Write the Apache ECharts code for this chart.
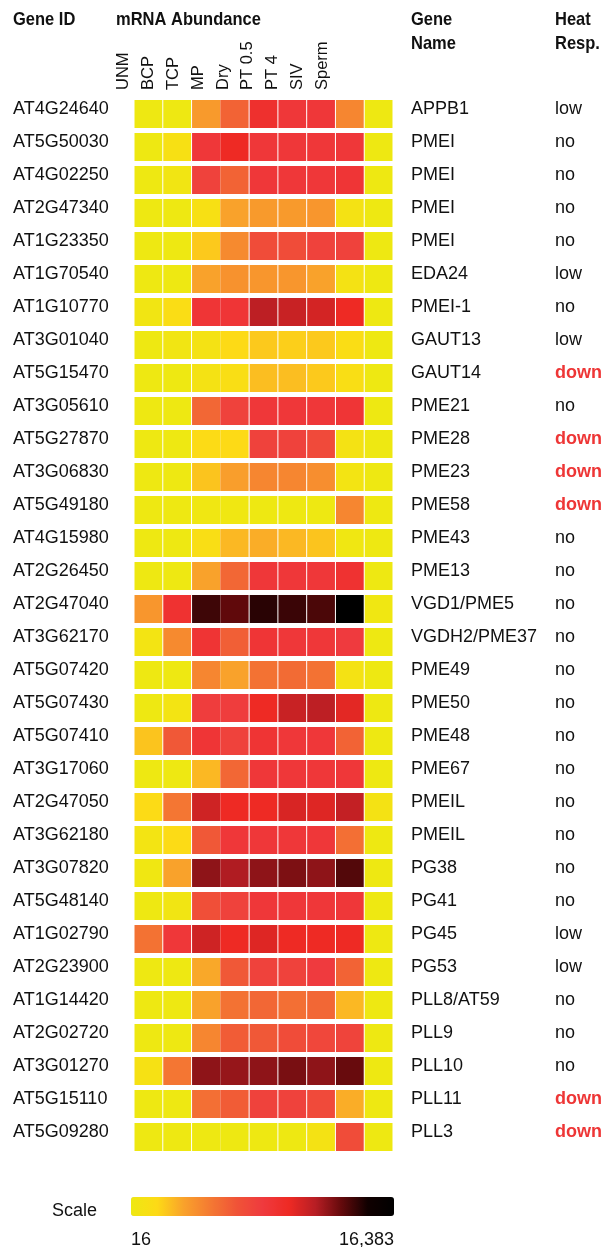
<!DOCTYPE html>
<html>
<head>
<meta charset="utf-8">
<script src="https://cdn.jsdelivr.net/npm/echarts@6/dist/echarts.min.js"></script>
<style>
  html, body { margin: 0; padding: 0; background: #fff; }
  #chart { width: 606px; height: 1247px; }
</style>
</head>
<body>
<div id="chart"></div>
<script>
const stages = ['UNM', 'BCP', 'TCP', 'MP', 'Dry', 'PT 0.5', 'PT 4', 'SIV', 'Sperm']

const geneIds = [
  'AT4G24640', 'AT5G50030', 'AT4G02250', 'AT2G47340', 'AT1G23350', 'AT1G70540',
  'AT1G10770', 'AT3G01040', 'AT5G15470', 'AT3G05610', 'AT5G27870', 'AT3G06830',
  'AT5G49180', 'AT4G15980', 'AT2G26450', 'AT2G47040', 'AT3G62170', 'AT5G07420',
  'AT5G07430', 'AT5G07410', 'AT3G17060', 'AT2G47050', 'AT3G62180', 'AT3G07820',
  'AT5G48140', 'AT1G02790', 'AT2G23900', 'AT1G14420', 'AT2G02720', 'AT3G01270',
  'AT5G15110', 'AT5G09280',
]

const geneNames = [
  'APPB1', 'PMEI', 'PMEI', 'PMEI', 'PMEI', 'EDA24',
  'PMEI-1', 'GAUT13', 'GAUT14', 'PME21', 'PME28', 'PME23',
  'PME58', 'PME43', 'PME13', 'VGD1/PME5', 'VGDH2/PME37', 'PME49',
  'PME50', 'PME48', 'PME67', 'PMEIL', 'PMEIL', 'PG38',
  'PG41', 'PG45', 'PG53', 'PLL8/AT59', 'PLL9', 'PLL10',
  'PLL11', 'PLL3',
]

const heatResp = [
  'low', 'no', 'no', 'no', 'no', 'low',
  'no', 'low', 'down', 'no', 'down', 'down',
  'down', 'no', 'no', 'no', 'no', 'no',
  'no', 'no', 'no', 'no', 'no', 'no',
  'no', 'low', 'low', 'no', 'no', 'no',
  'down', 'down',
]

// log2 mRNA abundance, one row per gene, columns follow `stages`
// (scale runs 16 .. 16,383, i.e. log2 4 .. 14)
const log2Abundance = [
  [4, 4, 6.2, 7.6, 9.6, 9.2, 9.2, 6.7, 4],
  [4, 4.6, 9.2, 10, 9.2, 9.2, 9.2, 9.2, 4],
  [4, 4.2, 8.7, 7.6, 9.2, 9.2, 9.2, 9.3, 4],
  [4, 4, 4.6, 6.0, 6.2, 6.2, 6.3, 4.4, 4],
  [4, 4, 5.3, 6.6, 8.3, 8.3, 8.7, 8.7, 4],
  [4, 4, 6.0, 6.4, 6.3, 6.3, 6.0, 4.4, 4],
  [4.2, 4.8, 9.3, 9.3, 10.9, 10.7, 10.5, 10, 4],
  [4, 4.2, 4.4, 5.0, 5.3, 5.2, 5.3, 4.8, 4],
  [4, 4, 4.4, 4.7, 5.5, 5.5, 5.3, 4.7, 4],
  [4, 4, 7.5, 8.7, 9.2, 9.2, 9.2, 9.3, 4],
  [4, 4, 4.9, 5.0, 8.7, 8.7, 8.4, 4.4, 4],
  [4, 4, 5.4, 6.1, 6.7, 6.7, 6.5, 4.3, 4],
  [4, 4, 4.1, 4.1, 4, 4, 4, 6.7, 4],
  [4, 4, 4.7, 5.6, 5.8, 5.6, 5.4, 4.1, 4],
  [4, 4, 6.0, 7.5, 9.2, 9.2, 9.2, 9.5, 4],
  [6.3, 9.5, 12.45, 12.05, 12.7, 12.5, 12.3, 14, 4.1],
  [4.3, 6.6, 9.4, 7.7, 9.3, 9.2, 9.2, 9.0, 4],
  [4, 4, 6.7, 6.0, 7.2, 7.4, 7.2, 4.4, 4],
  [4, 4.3, 8.9, 8.9, 10, 10.7, 10.9, 10.2, 4],
  [5.4, 7.9, 9.3, 8.7, 9.4, 9.2, 9.2, 7.6, 4],
  [4, 4, 5.6, 7.5, 9.2, 9.2, 9.2, 9.2, 4],
  [4.9, 7.1, 10.6, 10, 10, 10.4, 10.3, 10.8, 4.4],
  [4.3, 4.9, 7.9, 9.2, 9.2, 9.2, 9.2, 7.3, 4],
  [4.1, 6.0, 11.5, 11.1, 11.5, 11.7, 11.5, 12.2, 4],
  [4, 4.2, 8.2, 8.7, 9.2, 9.2, 9.2, 9.2, 4],
  [7.2, 9.2, 10.6, 10, 10.3, 10, 10, 10, 4],
  [4, 4, 5.9, 7.9, 8.7, 8.7, 9.0, 7.6, 4],
  [4, 4, 6.0, 7.2, 7.5, 7.3, 7.5, 5.6, 4],
  [4, 4, 6.7, 7.8, 7.9, 8.3, 8.5, 8.6, 4],
  [4.5, 7.1, 11.5, 11.4, 11.5, 11.75, 11.5, 11.95, 4],
  [4, 4, 7.3, 7.8, 8.7, 8.7, 8.4, 5.8, 4],
  [4, 4, 4, 4, 4, 4, 4.4, 8.3, 4],
]

const scaleLabels = ['16', '16,383']

// yellow -> orange -> red -> black, one stop per log2 unit
const palette = [
  '#EEE812', '#FDDA16', '#F9A22B', '#F47A32', '#F05437', '#EF3A3E',
  '#EE2A24', '#B81E24', '#640A0C', '#100000', '#000000',
]

const FONT = '"Liberation Sans", Arial, Helvetica, sans-serif'
const INK = '#111'

const cells = []
log2Abundance.forEach((row, y) => {
  row.forEach((v, x) => cells.push([x, y, v]))
})

// TCP and MP touch each other in the original, every other pair has a 1px gap
const renderCell = (params, api) => {
  const x = api.value(0)
  const p = api.coord([x, api.value(1)])
  const size = api.size([1, 1])
  const padL = x === 3 ? 0 : 0.5
  const padR = x === 2 ? 0 : 0.5
  return {
    type: 'rect',
    shape: {
      x: p[0] - size[0] / 2 + padL,
      y: p[1] - size[1] / 2 + 2.5,
      width: size[0] - padL - padR,
      height: size[1] - 5,
    },
    style: { fill: api.visual('color') },
  }
}

// the original type is a little taller than it is wide
const headerText = (text, x, y) => ({
  type: 'text',
  x,
  y,
  scaleY: 1.12,
  style: {
    text,
    fill: INK,
    font: 'bold 16.5px ' + FONT,
    verticalAlign: 'top',
  },
})

const plainText = (text, x, y, align, vAlign) => ({
  type: 'text',
  x,
  y,
  style: {
    text,
    fill: INK,
    font: '18px ' + FONT,
    align,
    verticalAlign: vAlign,
  },
})

// rich text so the bottom padding lifts labels a little above the row centre
const rowLabel = (margin, getText) => ({
  interval: 0,
  margin,
  align: 'left',
  padding: [0, 0, 9, 0],
  formatter: (v, i) => {
    const s = getText(v, i)
    return s === 'down' ? '{down|down}' : '{t|' + s + '}'
  },
  rich: {
    t: { fontFamily: FONT, fontSize: 18, color: INK },
    down: { fontFamily: FONT, fontSize: 18, fontWeight: 'bold', color: '#EE3636' },
  },
})

const rowAxis = (position, label) => ({
  type: 'category',
  data: geneIds,
  inverse: true,
  gridIndex: 0,
  position,
  axisLine: { show: false },
  axisTick: { show: false },
  axisLabel: label,
})

const option = {
  animation: false,
  grid: [
    { left: 134, top: 97.5, width: 259, height: 1056 },
    // only carries the stage labels, which sit a bit left of the columns
    { left: 111, top: 100, width: 224, height: 1 },
  ],
  xAxis: [
    {
      type: 'category',
      data: stages,
      gridIndex: 0,
      show: false,
    },
    {
      type: 'category',
      data: stages,
      gridIndex: 1,
      position: 'top',
      axisLine: { show: false },
      axisTick: { show: false },
      axisLabel: {
        interval: 0,
        rotate: 90,
        margin: 10,
        fontFamily: FONT,
        fontSize: 16.5,
        color: INK,
      },
    },
  ],
  yAxis: [
    rowAxis('left', rowLabel(121, (v) => v)),
    rowAxis('right', rowLabel(18, (v, i) => geneNames[i])),
    rowAxis('right', rowLabel(162, (v, i) => heatResp[i])),
    { type: 'value', gridIndex: 1, show: false },
  ],
  visualMap: {
    type: 'continuous',
    min: 4,
    max: 14,
    dimension: 2,
    seriesIndex: 0,
    orient: 'horizontal',
    left: 131,
    top: 1197,
    itemWidth: 19,
    itemHeight: 263,
    padding: 0,
    calculable: false,
    hoverLink: false,
    inRange: { color: palette },
  },
  graphic: [
    headerText('Gene ID', 13, 10),
    headerText('mRNA Abundance', 116, 10),
    headerText('Gene', 411, 10),
    headerText('Name', 411, 34),
    headerText('Heat', 555, 10),
    headerText('Resp.', 555, 34),
    plainText('Scale', 52, 1211, 'left', 'middle'),
    plainText(scaleLabels[0], 131, 1231, 'left', 'top'),
    plainText(scaleLabels[1], 394, 1231, 'right', 'top'),
  ],
  series: [
    {
      type: 'custom',
      xAxisIndex: 0,
      yAxisIndex: 0,
      renderItem: renderCell,
      encode: { x: 0, y: 1 },
      data: cells,
    },
  ],
}

const myChart = echarts.init(document.getElementById('chart'), null, { renderer: 'canvas' })
myChart.setOption(option)
</script>
</body>
</html>
